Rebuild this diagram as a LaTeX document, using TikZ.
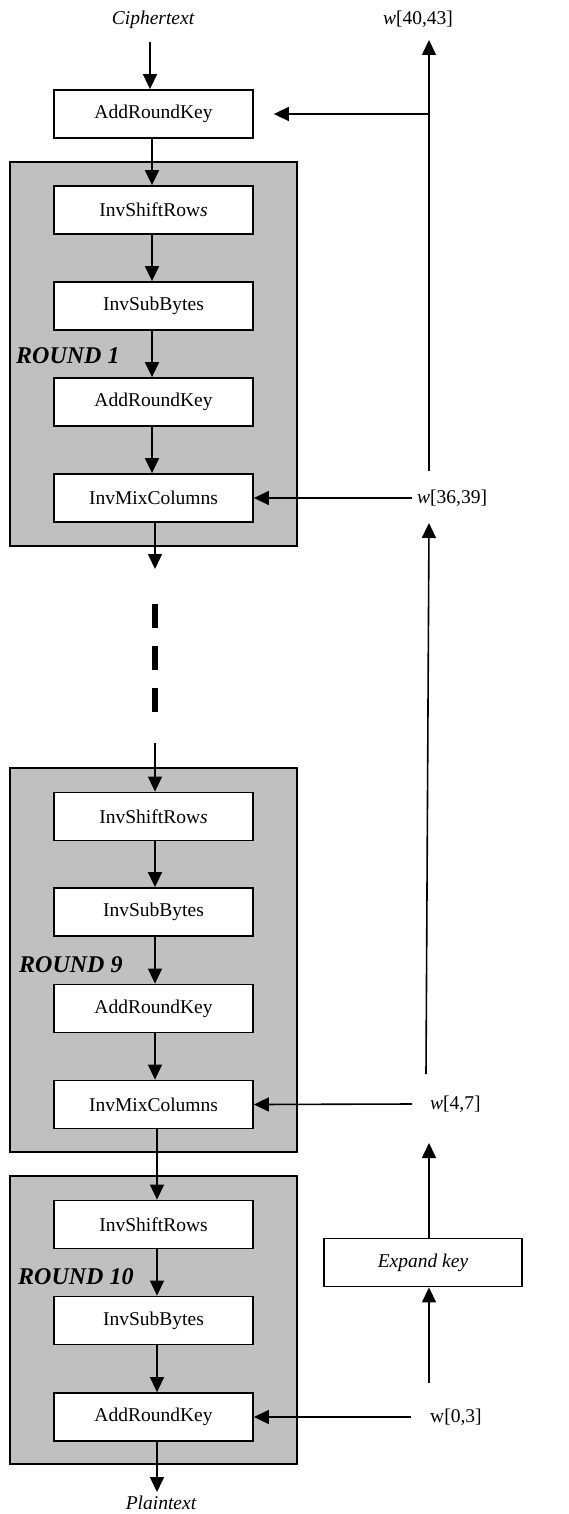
\documentclass[tikz,border=0pt]{standalone}
\usepackage{fontspec}
\setmainfont{Liberation Serif}
\usetikzlibrary{arrows.meta}
\definecolor{roundgray}{HTML}{C0C0C0}
\begin{document}
\begin{tikzpicture}[x=1pt,y=-1pt,
  op/.style={draw,line width=1.8pt,fill=white,minimum width=199pt,minimum height=48pt,inner sep=0pt,font=\fontsize{19.5}{23}\selectfont},
  roundbox/.style={draw,line width=1.8pt,fill=roundgray},
  arr/.style={line width=1.6pt,-{Triangle[length=15pt,width=14pt]}},
  lbl/.style={font=\fontsize{19.5}{23}\selectfont,inner sep=0pt},
  rlbl/.style={font=\fontsize{24}{28}\selectfont\bfseries\itshape,inner sep=0pt,anchor=base west},
  dots/.style={line width=6pt,dash pattern=on 24pt off 18pt}]
\useasboundingbox (0,0) rectangle (569,1514);
% round frames
\draw[roundbox] (10,162) rectangle (297,546);
\draw[roundbox] (10,768) rectangle (297,1152);
\draw[roundbox] (10,1176) rectangle (297,1464);
% round labels
\node[rlbl] (r1) at (16,363) {ROUND 1};
\node[rlbl] (r9) at (19,972) {ROUND 9};
\node[rlbl] (r10) at (18,1284) {ROUND 10};
% operation boxes
\node[op] (ark0) at (153.5,114) {AddRoundKey};
\node[op] (isr1) at (153.5,210) {InvShiftRow\textit{s}};
\node[op] (isb1) at (153.5,306) {InvSubBytes};
\node[op] (ark1) at (153.5,402) {AddRoundKey};
\node[op] (imc1) at (153.5,498) {InvMixColumns};
\node[op] (isr9) at (153.5,816.5) {InvShiftRow\textit{s}};
\node[op] (isb9) at (153.5,912) {InvSubBytes};
\node[op] (ark9) at (153.5,1008.5) {AddRoundKey};
\node[op] (imc9) at (153.5,1104.5) {InvMixColumns};
\node[op] (isr10) at (153.5,1224.5) {InvShiftRows};
\node[op] (isb10) at (153.5,1320.5) {InvSubBytes};
\node[op] (ark10) at (153.5,1417) {AddRoundKey};
\node[op,minimum width=198pt] (expand) at (423,1262.5) {\itshape Expand key};
% text labels
\node[lbl,anchor=base] (cipher) at (153,25) {\itshape Ciphertext};
\node[lbl,anchor=base] (w4043) at (418,25) {\textit{w}[40,43]};
\node[lbl,anchor=west] (w3639) at (417,498) {\textit{w}[36,39]};
\node[lbl,anchor=west] (w47) at (430,1104) {\textit{w}[4,7]};
\node[lbl,anchor=west] (w03) at (430,1417) {w[0,3]};
\node[lbl,anchor=base] (plain) at (161,1509) {\itshape Plaintext};
% key path coordinates
\coordinate (ktop) at (429,40);
\coordinate (j0) at (429,114);
\coordinate (k36) at (429,471);
\coordinate (k36tip) at (429,523);
\coordinate (k47) at (426,1074);
\coordinate (k47tip) at (429,1143);
\coordinate (k03) at (429,1383);
% dotted continuation coordinates
\coordinate (d1) at (155,569);
\coordinate (d2) at (155,604);
\coordinate (d3) at (155,713);
\coordinate (d4) at (155,743);
% main data path
\draw[arr] ([xshift=-3pt,yshift=-17pt]cipher.base) -- ([xshift=-3.5pt]ark0.north);
\draw[arr] ([xshift=-1.5pt]ark0.south) -- ([xshift=-1.5pt]isr1.north);
\draw[arr] ([xshift=-1.5pt]isr1.south) -- ([xshift=-1.5pt]isb1.north);
\draw[arr] ([xshift=-1.5pt]isb1.south) -- ([xshift=-1.5pt]ark1.north);
\draw[arr] ([xshift=-1.5pt]ark1.south) -- ([xshift=-1.5pt]imc1.north);
\draw[arr] ([xshift=1.5pt]imc1.south) -- (d1);
\draw[dots] (d2) -- (d3);
\draw[arr] (d4) -- ([xshift=1.5pt]isr9.north);
\draw[arr] ([xshift=1.5pt]isr9.south) -- ([xshift=1.5pt]isb9.north);
\draw[arr] ([xshift=1.5pt]isb9.south) -- ([xshift=1.5pt]ark9.north);
\draw[arr] ([xshift=1.5pt]ark9.south) -- ([xshift=1.5pt]imc9.north);
\draw[arr] ([xshift=3.5pt]imc9.south) -- ([xshift=3.5pt]isr10.north);
\draw[arr] ([xshift=3.5pt]isr10.south) -- ([xshift=3.5pt]isb10.north);
\draw[arr] ([xshift=3.5pt]isb10.south) -- ([xshift=3.5pt]ark10.north);
\draw[arr] ([xshift=3.5pt]ark10.south) -- ([xshift=-4pt,yshift=17pt]plain.base);
% key path
\draw[arr] (k36) -- (ktop);
\draw[arr] (j0) -- ([xshift=20pt]ark0.east);
\draw[arr] ([xshift=-5pt]w3639.west) -- (imc1.east);
\draw[arr] (k47) -- (k36tip);
\draw[arr] ([xshift=-18pt]w47.west) -- (imc9.east);
\draw[arr] ([xshift=6pt]expand.north) -- (k47tip);
\draw[arr] (k03) -- ([xshift=6pt]expand.south);
\draw[arr] ([xshift=-19pt]w03.west) -- (ark10.east);
\end{tikzpicture}
\end{document}
